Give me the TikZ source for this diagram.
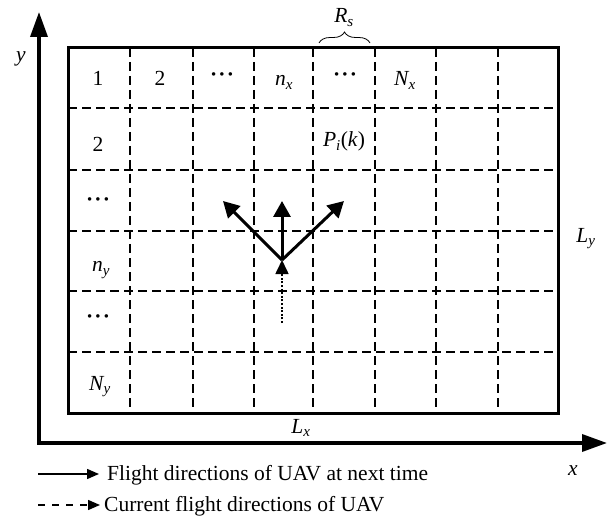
\documentclass[tikz,border=0pt]{standalone}
\usepackage{amsmath}
\usepackage{fontspec}
\setmainfont{Liberation Serif}
\usetikzlibrary{arrows.meta,decorations.pathreplacing}
\newcommand{\vr}[2]{$\textit{#1}_{\textit{#2}}$}
\newcommand{\mydots}{\textbf{\textperiodcentered\kern1.2pt\textperiodcentered\kern1.2pt\textperiodcentered}}
\begin{document}
\begin{tikzpicture}[x=1pt,y=-1pt,
  lbl/.style={font=\fontsize{21.5}{26}\selectfont, inner sep=0pt, anchor=base},
  frameline/.style={line width=3pt},
  gridline/.style={line width=1.4pt, dash pattern=on 9pt off 5pt},
  axisline/.style={line width=3.5pt, {Triangle[length=25pt,width=17pt]}-{Triangle[length=25pt,width=17pt]}},
  dirarrow/.style={line width=3pt, -{Triangle[length=16pt,width=17pt]}},
  curarrow/.style={line width=1.6pt, dash pattern=on 2pt off 1.6pt, -{Triangle[length=14pt,width=13pt]}},
  legsolid/.style={line width=1.5pt, -{Triangle[length=12pt,width=10pt]}},
  legdash/.style={line width=1.5pt, dash pattern=on 7pt off 7pt, -{Triangle[length=12pt,width=10pt]}}]
\useasboundingbox (0,0) rectangle (611,516);
% grid
\foreach \x in {130,193,254,313,375,436,498} \draw[gridline] (\x,48) -- (\x,413);
\foreach \y in {108,170,231,291,352} \draw[gridline] (68,\y) -- (558,\y);
\draw[frameline] (68,48) rectangle (558,413);
% axes
\coordinate (O) at (39,443);
\coordinate (ytip) at (39,12);
\coordinate (xtip) at (607,443);
\draw[axisline] (ytip) -- (O) -- (xtip);
\node[lbl] (ylab) at (21,62) {\textit{y}};
\node[lbl] (xlab) at (573,475) {\textit{x}};
% top row labels
\node[lbl] (c1) at (98,86) {1};
\node[lbl] (c2) at (160,86) {2};
\node[lbl,anchor=center] (c3) at (222,77) {\mydots};
\node[lbl] (c4) at (284,86) {\vr{n}{x}};
\node[lbl,anchor=center] (c5) at (345,77) {\mydots};
\node[lbl] (c6) at (405,86) {\vr{N}{x}};
% left column labels
\node[lbl] (r2) at (98,152) {2};
\node[lbl,anchor=center] (r3) at (98,202) {\mydots};
\node[lbl] (r4) at (101,272) {\vr{n}{y}};
\node[lbl,anchor=center] (r5) at (98,319) {\mydots};
\node[lbl] (r6) at (100,390) {\vr{N}{y}};
% P_i(k)
\node[lbl] (P) at (344,147) {$\textit{P}_{\textit{i}}$(\textit{k})};
% dimensions
\node[lbl] (Ly) at (586,242) {\vr{L}{y}};
\node[lbl] (Lx) at (301,433) {\vr{L}{x}};
\coordinate (bl) at (319,43);
\coordinate (br) at (370,43);
\draw[decorate, decoration={brace, amplitude=11pt}, line width=0.8pt] (bl) -- (br);
\node[lbl] (Rs) at (344,23) {\vr{R}{s}};
% flight directions
\coordinate (C) at (282,260);
\coordinate (up) at (282,201);
\coordinate (ul) at (223,201);
\coordinate (ur) at (344,201);
\coordinate (D) at (282,323);
\draw[dirarrow] (C) -- (up);
\draw[dirarrow] (C) -- (ul);
\draw[dirarrow] (C) -- (ur);
\draw[curarrow] (D) -- (C);
% legend
\coordinate (l1a) at (38,474);
\coordinate (l1b) at (99,474);
\coordinate (l2a) at (38,505);
\coordinate (l2b) at (100,505);
\draw[legsolid] (l1a) -- (l1b);
\draw[legdash] (l2a) -- (l2b);
\node[lbl,anchor=base west] (t1) at (107,480) {Flight directions of UAV at next time};
\node[lbl,anchor=base west] (t2) at (104,511) {Current flight directions of UAV};
\end{tikzpicture}
\end{document}
